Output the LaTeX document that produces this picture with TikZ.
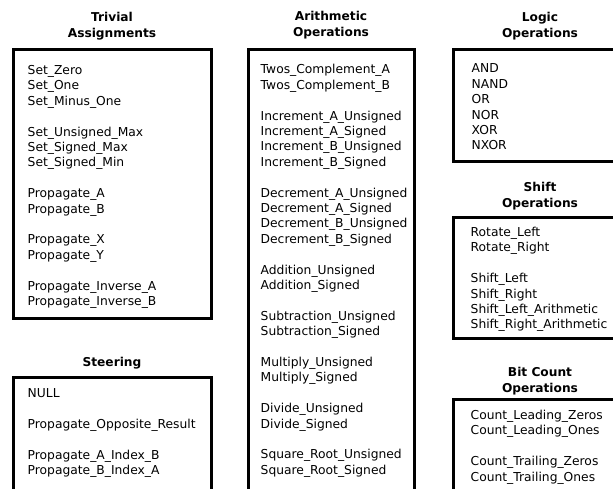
\documentclass[tikz,border=0pt]{standalone}
\usepackage{fontspec}
\setmainfont{DejaVu Sans}
\newcommand{\oplist}[1]{\begin{tabular}[t]{@{}l@{}}#1\end{tabular}}
\newcommand{\ophead}[1]{\begin{tabular}[t]{@{}c@{}}#1\end{tabular}}
\tikzset{
  panel/.style={draw=black, line width=3pt},
  head/.style={anchor=base, inner sep=0pt, font=\fontsize{12.2}{16}\selectfont\bfseries},
  items/.style={anchor=base west, inner sep=0pt, font=\fontsize{12.3}{15.4}\selectfont},
}
\begin{document}
\begin{tikzpicture}[x=1pt, y=-1pt]
  \useasboundingbox (0,0) rectangle (613,489);
  \clip (0,0) rectangle (613,489);
  \fill[white] (0,0) rectangle (613,489);

  % Trivial assignments
  \node[head] (trivhead) at (112,22) {\ophead{Trivial\\Assignments}};
  \draw[panel] (13,49.5) rectangle (211,318);
  \node[items] (trivlist) at (27.5,74.5) {\oplist{Set\_Zero\\Set\_One\\Set\_Minus\_One\\ \\
    Set\_Unsigned\_Max\\Set\_Signed\_Max\\Set\_Signed\_Min\\ \\
    Propagate\_A\\Propagate\_B\\ \\
    Propagate\_X\\Propagate\_Y\\ \\
    Propagate\_Inverse\_A\\Propagate\_Inverse\_B}};

  % Steering
  \node[head] (steerhead) at (112,366.5) {Steering};
  \draw[panel] (13,377) rectangle (211,520);
  \node[items] (steerlist) at (27.5,397.5) {\oplist{NULL\\ \\
    Propagate\_Opposite\_Result\\ \\
    Propagate\_A\_Index\_B\\Propagate\_B\_Index\_A}};

  % Arithmetic operations
  \node[head] (arithhead) at (331,21) {\ophead{Arithmetic\\Operations}};
  \draw[panel] (248,49.5) rectangle (414,520);
  \node[items] (arithlist) at (260.5,74) {\oplist{Twos\_Complement\_A\\Twos\_Complement\_B\\ \\
    Increment\_A\_Unsigned\\Increment\_A\_Signed\\Increment\_B\_Unsigned\\Increment\_B\_Signed\\ \\
    Decrement\_A\_Unsigned\\Decrement\_A\_Signed\\Decrement\_B\_Unsigned\\Decrement\_B\_Signed\\ \\
    Addition\_Unsigned\\Addition\_Signed\\ \\
    Subtraction\_Unsigned\\Subtraction\_Signed\\ \\
    Multiply\_Unsigned\\Multiply\_Signed\\ \\
    Divide\_Unsigned\\Divide\_Signed\\ \\
    Square\_Root\_Unsigned\\Square\_Root\_Signed}};

  % Logic operations
  \node[head] (logichead) at (540,22) {\ophead{Logic\\Operations}};
  \draw[panel] (453,49.5) rectangle (640,162);
  \node[items] (logiclist) at (471.5,73) {\oplist{AND\\NAND\\OR\\NOR\\XOR\\NXOR}};

  % Shift operations
  \node[head] (shifthead) at (540,191.5) {\ophead{Shift\\Operations}};
  \draw[panel] (453,218) rectangle (640,338);
  \node[items] (shiftlist) at (470.5,236.5) {\oplist{Rotate\_Left\\Rotate\_Right\\ \\
    Shift\_Left\\Shift\_Right\\Shift\_Left\_Arithmetic\\Shift\_Right\_Arithmetic}};

  % Bit count operations
  \node[head] (bithead) at (540,376) {\ophead{Bit Count\\Operations}};
  \draw[panel] (453,399) rectangle (640,520);
  \node[items] (bitlist) at (470.5,419.5) {\oplist{Count\_Leading\_Zeros\\Count\_Leading\_Ones\\ \\
    Count\_Trailing\_Zeros\\Count\_Trailing\_Ones}};
\end{tikzpicture}
\end{document}
